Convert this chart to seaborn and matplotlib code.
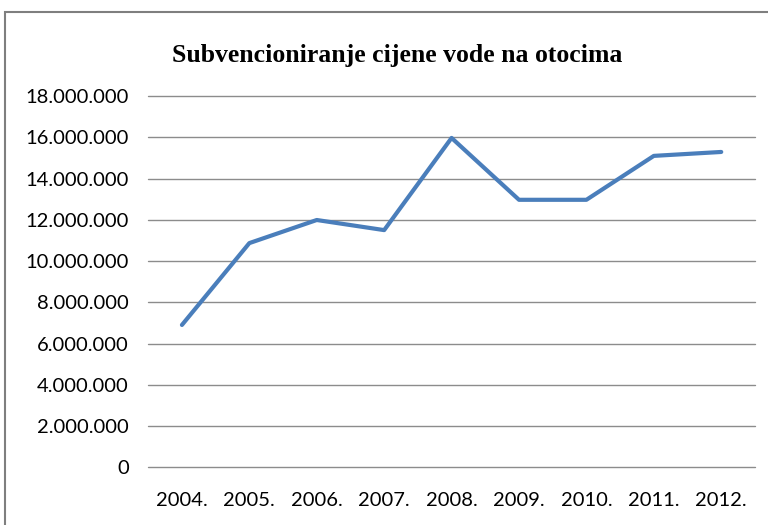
import pandas as pd
import seaborn as sns
import matplotlib.pyplot as plt
from matplotlib.patches import Rectangle
from matplotlib.ticker import FuncFormatter

godine = ['2004.', '2005.', '2006.', '2007.', '2008.', '2009.', '2010.', '2011.', '2012.']
iznosi = [6900000, 10870000, 11990000, 11500000, 15970000, 12970000, 12970000, 15100000, 15290000]
y_ticks = [0, 2000000, 4000000, 6000000, 8000000, 10000000, 12000000, 14000000, 16000000, 18000000]

df = pd.DataFrame({'godina': godine, 'iznos': iznosi})
df['pos'] = range(len(godine))

sns.set_style('white')
plt.rcParams['font.family'] = ['Lato', 'DejaVu Sans']

fig = plt.figure(figsize=(7.68, 5.25), dpi=100)
ax = fig.add_axes([0.193, 0.110, 0.790, 0.707])

sns.lineplot(data=df, x='pos', y='iznos', color='#4A7EBB', linewidth=3.0, ax=ax)

ax.set_xlim(-0.5, len(godine) - 0.5)
ax.set_ylim(0, 18000000)
ax.set_xticks(df['pos'])
ax.set_xticklabels(godine)
ax.set_yticks(y_ticks)
ax.yaxis.set_major_formatter(FuncFormatter(lambda v, p: f'{int(v):,}'.replace(',', '.')))
ax.grid(axis='y', color='#8c8c8c', linewidth=1.0)
for gl in ax.get_ygridlines():
    gl.set_clip_on(False)
ax.set_axisbelow(True)
for s in ax.spines.values():
    s.set_visible(False)
ax.tick_params(axis='both', length=0, labelsize=14.5, colors='black')
ax.tick_params(axis='y', pad=14)
ax.tick_params(axis='x', pad=18)
ax.set_xlabel('')
ax.set_ylabel('')

fig.text(0.517, 0.895, 'Subvencioniranje cijene vode na otocima', ha='center', va='center',
         fontsize=18.5, fontweight='bold', color='black', family=['Liberation Serif', 'DejaVu Serif'])

# okvir grafikona, odrezan desno i dolje kao na slici
fig.add_artist(Rectangle((5 / 768, -0.05), 1.1, 1 - 12 / 525 + 0.05, transform=fig.transFigure,
                         fill=False, edgecolor='#7f7f7f', linewidth=1.5))

fig.savefig('out.png', dpi=100)
